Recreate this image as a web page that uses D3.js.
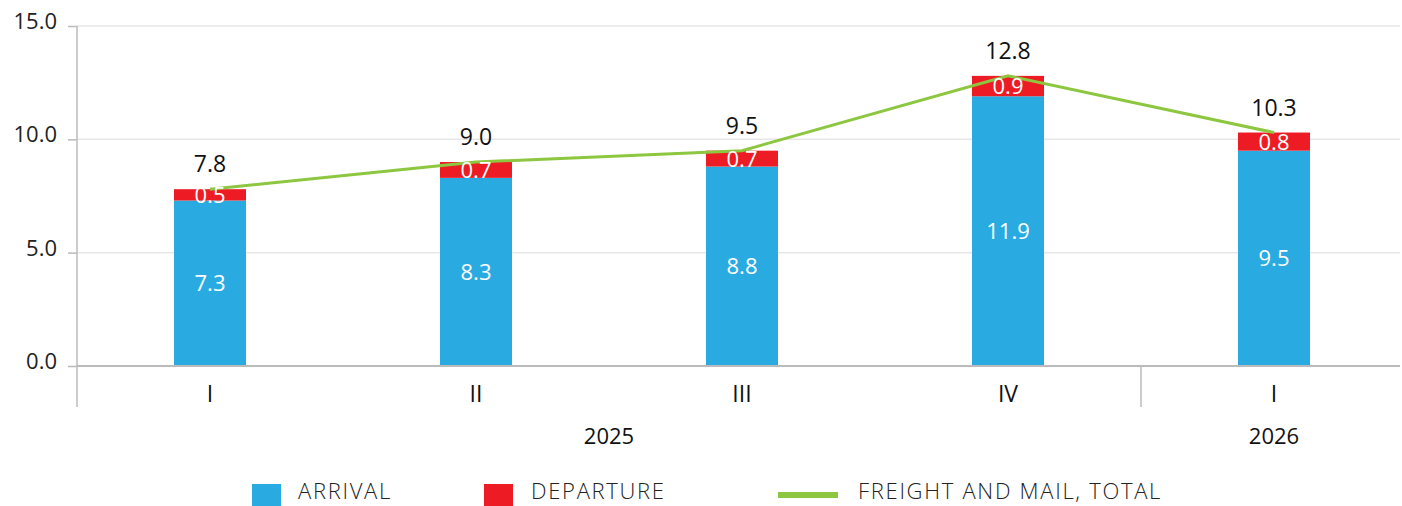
<!DOCTYPE html>
<html>
<head>
<meta charset="utf-8">
<script src="https://d3js.org/d3.v7.min.js"></script>
<style>
    body { margin: 0; background: #fff; font-family: 'Open Sans', sans-serif; }
    svg text { font-family: 'Open Sans', sans-serif; }
</style>
</head>
<body>
<div id="chart"></div>
<script>
// data
const quarters = ["I", "II", "III", "IV", "I"];
const years = [{ label: "2025", from: 0, to: 3 }, { label: "2026", from: 4, to: 4 }];
const arrival = [7.3, 8.3, 8.8, 11.9, 9.5];
const departure = [0.5, 0.7, 0.7, 0.9, 0.8];
const total = [7.8, 9.0, 9.5, 12.8, 10.3];
const yTicks = [0, 5, 10, 15];

const width = 1402, height = 506;
const margin = { top: 26, right: 2, bottom: 140, left: 77 };

const colors = { arrival: "#29abe2", departure: "#ed1c24", total: "#8dc63f" };

const svg = d3.select("#chart").append("svg")
    .attr("width", width)
    .attr("height", height);

const x = d3.scaleBand()
    .domain(d3.range(quarters.length))
    .range([margin.left, margin.left + 266 * quarters.length])
    .paddingInner(0);

const y = d3.scaleLinear()
    .domain([0, 15])
    .range([366, margin.top]);

const barW = 72;

// gridlines
svg.append("g")
    .selectAll("line")
    .data(yTicks.filter(d => d > 0))
    .join("line")
    .attr("x1", margin.left)
    .attr("x2", 1400)
    .attr("y1", d => y(d))
    .attr("y2", d => y(d))
    .attr("stroke", "#e6e6e6")
    .attr("stroke-width", 1.5);

// y axis labels + ticks
const yAxis = svg.append("g").attr("transform", `translate(${margin.left},0)`)
    .call(d3.axisLeft(y).tickValues(yTicks).tickFormat(d3.format(".1f")).tickSize(9).tickPadding(11));
yAxis.select(".domain").remove();
yAxis.selectAll(".tick line").attr("stroke", "#bbb").attr("stroke-width", 1.5);
yAxis.selectAll(".tick text").attr("font-size", 22)
    .attr("fill", "#222").attr("dy", "0.12em");

// stacked bars
const bars = svg.append("g");
bars.selectAll(".arr")
    .data(arrival)
    .join("rect")
    .attr("x", (d, i) => x(i) + x.bandwidth() / 2 - barW / 2)
    .attr("width", barW)
    .attr("y", d => y(d))
    .attr("height", d => y(0) - y(d))
    .attr("fill", colors.arrival);

bars.selectAll(".dep")
    .data(departure)
    .join("rect")
    .attr("x", (d, i) => x(i) + x.bandwidth() / 2 - barW / 2)
    .attr("width", barW)
    .attr("y", (d, i) => y(arrival[i] + d))
    .attr("height", (d, i) => y(arrival[i]) - y(arrival[i] + d))
    .attr("fill", colors.departure);

// baseline and vertical axis
svg.append("line")
    .attr("x1", margin.left).attr("x2", 1400)
    .attr("y1", y(0)).attr("y2", y(0))
    .attr("stroke", "#bbb").attr("stroke-width", 2);
svg.append("line")
    .attr("x1", margin.left).attr("x2", margin.left)
    .attr("y1", margin.top).attr("y2", 407)
    .attr("stroke", "#bbb").attr("stroke-width", 1.5);
// year separator
svg.append("line")
    .attr("x1", x(4)).attr("x2", x(4))
    .attr("y1", y(0)).attr("y2", 407)
    .attr("stroke", "#bbb").attr("stroke-width", 1.5);

// total line
svg.append("path")
    .datum(total)
    .attr("fill", "none")
    .attr("stroke", colors.total)
    .attr("stroke-width", 3)
    .attr("d", d3.line()
        .x((d, i) => x(i) + x.bandwidth() / 2)
        .y(d => y(d)));

// labels
const fmt = d3.format(".1f");
const cx = i => x(i) + x.bandwidth() / 2;

svg.append("g").selectAll("text")
    .data(arrival)
    .join("text")
    .attr("x", (d, i) => cx(i))
    .attr("y", d => y(d / 2) + 8)
    .attr("text-anchor", "middle")
    .attr("font-size", 22)
    .attr("fill", "#fff")
    .text(d => fmt(d));

svg.append("g").selectAll("text")
    .data(departure)
    .join("text")
    .attr("x", (d, i) => cx(i))
    .attr("y", (d, i) => y(arrival[i] + d / 2) + 8)
    .attr("text-anchor", "middle")
    .attr("font-size", 22)
    .attr("fill", "#fff")
    .text(d => fmt(d));

svg.append("g").selectAll("text")
    .data(total)
    .join("text")
    .attr("x", (d, i) => cx(i))
    .attr("y", d => y(d) - 17)
    .attr("text-anchor", "middle")
    .attr("font-size", 23)
    .attr("fill", "#111")
    .text(d => fmt(d));

// category labels
svg.append("g").selectAll("text")
    .data(quarters)
    .join("text")
    .attr("x", (d, i) => cx(i))
    .attr("y", 402)
    .attr("text-anchor", "middle")
    .attr("font-size", 23)
    .attr("fill", "#111")
    .text(d => d);

svg.append("g").selectAll("text")
    .data(years)
    .join("text")
    .attr("x", d => (cx(d.from) + cx(d.to)) / 2)
    .attr("y", 444)
    .attr("text-anchor", "middle")
    .attr("font-size", 22)
    .attr("fill", "#111")
    .text(d => d.label);

// legend
const legendItems = [
    { label: "ARRIVAL", type: "box", color: colors.arrival, x: 252, tx: 298 },
    { label: "DEPARTURE", type: "box", color: colors.departure, x: 484, tx: 531 },
    { label: "FREIGHT AND MAIL, TOTAL", type: "line", color: colors.total, x: 778, tx: 858 }
];
const lg = svg.append("g").selectAll("g")
    .data(legendItems)
    .join("g");
lg.filter(d => d.type === "box").append("rect")
    .attr("x", d => d.x).attr("y", 484)
    .attr("width", 29).attr("height", 22)
    .attr("fill", d => d.color);
lg.filter(d => d.type === "line").append("rect")
    .attr("x", d => d.x).attr("y", 492)
    .attr("width", 60).attr("height", 6)
    .attr("fill", d => d.color);
lg.append("text")
    .attr("x", d => d.tx).attr("y", 499)
    .attr("font-size", 22)
    .attr("font-weight", 300)
    .attr("letter-spacing", 1.7)
    .attr("fill", "#222")
    .text(d => d.label);
</script>
</body>
</html>
